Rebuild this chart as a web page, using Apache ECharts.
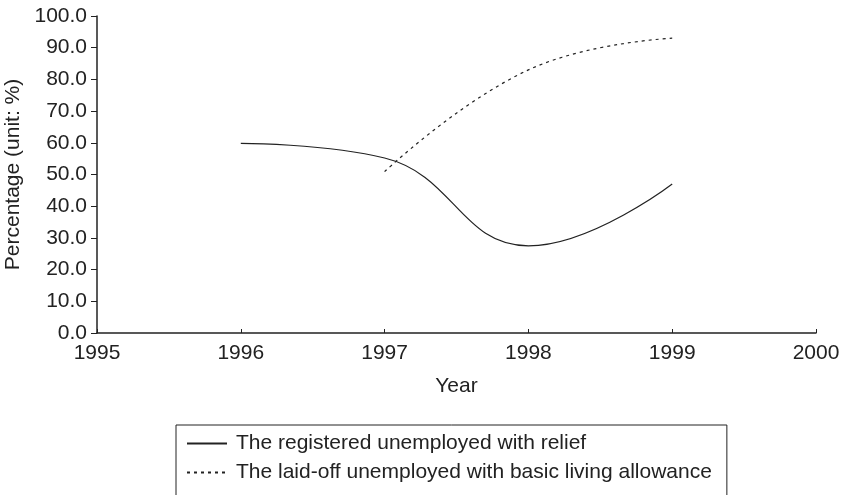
<!doctype html>
<html>
<head>
	<meta charset="utf-8">
	<title>Relief coverage</title>
	<script src="https://cdn.jsdelivr.net/npm/echarts@6/dist/echarts.min.js"></script>
</head>
<body style="margin:0;">
	<div id="chart" style="width: 841px; height: 495px;"></div>
	<script>
		var years = [1996, 1997, 1998, 1999];
		var registeredRelief = [59.8, 55.2, 27.5, 47.0];
		var laidOffYears = [1997, 1998, 1999];
		var laidOffAllowance = [50.9, 83.0, 93.0];
		var names = ['The registered unemployed with relief', 'The laid-off unemployed with basic living allowance'];

		function pairs(xs, ys) {
			return xs.map(function (x, i) { return [x, ys[i]]; });
		}

		var ink = '#222';
		var font = 'Liberation Sans, Arial, sans-serif';
		var chart = echarts.init(document.getElementById('chart'));
		var option = {
			animation: false,
			textStyle: {fontFamily: font, color: ink},
			grid: {left: 97, right: 25, top: 16, bottom: 162, containLabel: false, outerBoundsMode: 'none'},
			legend: {
				orient: 'vertical',
				left: 176,
				top: 425,
				height: 160,
				padding: [8, 15, 30, 10],
				itemGap: 8,
				itemWidth: 40,
				itemHeight: 14,
				borderColor: ink,
				borderWidth: 1,
				borderRadius: 0,
				itemStyle: {color: 'rgba(0,0,0,0)', borderWidth: 0},
				textStyle: {fontSize: 21, color: ink, fontFamily: font, padding: [0, 0, 0, 4]},
				data: names
			},
			xAxis: {
				type: 'value',
				min: 1995,
				max: 2000,
				interval: 1,
				name: 'Year',
				nameLocation: 'middle',
				nameGap: 43,
				nameTextStyle: {fontSize: 21, color: ink},
				axisLine: {lineStyle: {color: ink, width: 1.5}},
				axisTick: {show: true, inside: true, length: 4, lineStyle: {color: ink}},
				axisLabel: {fontSize: 21, color: ink, margin: 10, formatter: function (v) { return String(v); }},
				splitLine: {show: false}
			},
			yAxis: {
				type: 'value',
				min: 0,
				max: 100,
				interval: 10,
				name: 'Percentage (unit: %)',
				nameLocation: 'middle',
				nameGap: 67,
				nameTextStyle: {fontSize: 21, color: ink},
				axisLine: {show: true, lineStyle: {color: ink, width: 1.5}},
				axisTick: {show: true, length: 6, lineStyle: {color: ink}},
				axisLabel: {fontSize: 21, color: ink, margin: 10, formatter: function (v) { return v.toFixed(1); }},
				splitLine: {show: false}
			},
			series: [
				{
					name: names[0],
					type: 'line',
					smooth: 0.45,
					symbol: 'none',
					data: pairs(years, registeredRelief),
					lineStyle: {color: ink, width: 1.2},
					itemStyle: {color: ink}
				},
				{
					name: names[1],
					type: 'line',
					smooth: 0.45,
					symbol: 'none',
					data: pairs(laidOffYears, laidOffAllowance),
					lineStyle: {color: ink, width: 1.2, type: [3, 4]},
					itemStyle: {color: ink}
				}
			]
		};
		chart.setOption(option);
	</script>
</body>
</html>
